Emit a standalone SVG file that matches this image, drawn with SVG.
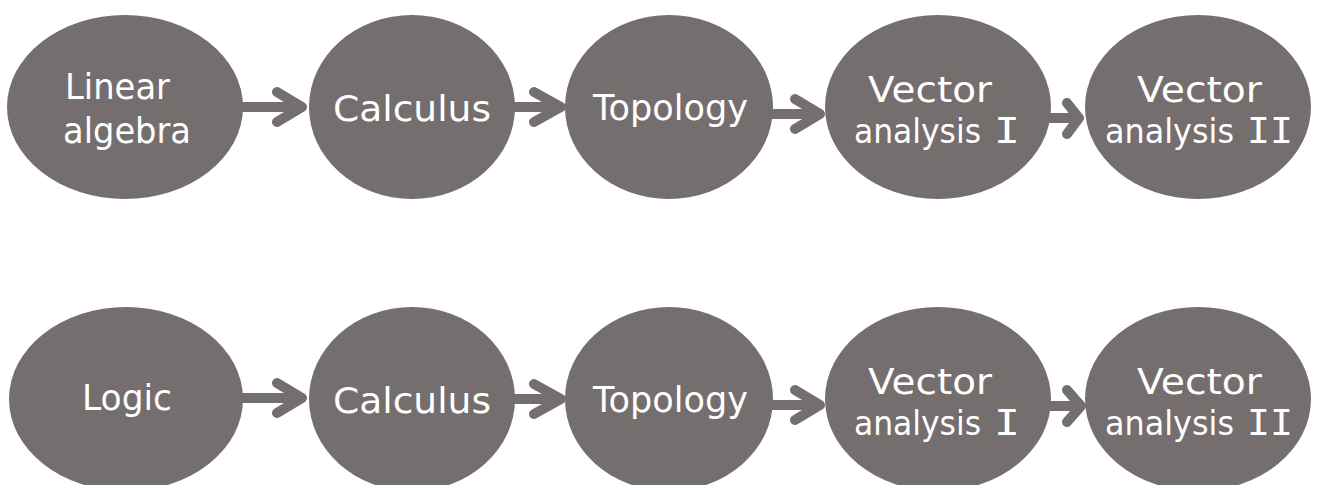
<svg xmlns="http://www.w3.org/2000/svg" width="1317" height="485" viewBox="0 0 1317 485">
  <style>
    .node { fill: #746e6e; }
    .label { fill: #ffffff; font-family: "DejaVu Sans", "Noto Sans", sans-serif; font-size: 35px; }
    .small { font-size: 34px; }
    .roman { fill: #ffffff; font-family: "DejaVu Sans Mono", "Liberation Mono", monospace; font-size: 36px; }
    .conn { fill: none; stroke: #746e6e; stroke-width: 10; stroke-linecap: round; stroke-linejoin: round; }
  </style>
  <rect width="1317" height="485" fill="#ffffff"/>

  <!-- connectors -->
  <g id="connectors">
    <!-- upper chain -->
    <path class="conn" d="M 238 107 H 298 M 277 92 L 302 107 L 277 122"/>
    <path class="conn" d="M 512 107 H 557 M 534 92 L 561 107 L 534 122"/>
    <path class="conn" d="M 770 114 H 815 M 795 99 L 820 114 L 795 129"/>
    <path class="conn" d="M 1048 118 H 1075 M 1067 103 L 1079 118 L 1067 134"/>
    <!-- lower chain -->
    <path class="conn" d="M 238 398 H 298 M 277 383 L 302 398 L 277 413"/>
    <path class="conn" d="M 512 399 H 557 M 534 384 L 561 399 L 534 414"/>
    <path class="conn" d="M 770 405 H 815 M 795 390 L 820 405 L 795 420"/>
    <path class="conn" d="M 1048 406 H 1077 M 1067 390 L 1081 406 L 1067 422"/>
  </g>

  <!-- upper chain nodes -->
  <g id="n-linear-algebra">
    <ellipse class="node" cx="125" cy="107" rx="118" ry="92"/>
    <text class="label" x="65" y="99" textLength="105" lengthAdjust="spacingAndGlyphs">Linear</text>
    <text class="label" x="63" y="143" textLength="128" lengthAdjust="spacingAndGlyphs">algebra</text>
  </g>
  <g id="n-calculus-1">
    <ellipse class="node" cx="412" cy="107" rx="103" ry="92"/>
    <text class="label" x="333" y="121" textLength="158" lengthAdjust="spacingAndGlyphs">Calculus</text>
  </g>
  <g id="n-topology-1">
    <ellipse class="node" cx="669" cy="107" rx="104" ry="92"/>
    <text class="label" x="593" y="120" textLength="155" lengthAdjust="spacingAndGlyphs">Topology</text>
  </g>
  <g id="n-vector-1-1">
    <ellipse class="node" cx="938" cy="107" rx="113" ry="92"/>
    <text class="label" x="868" y="102" textLength="124" lengthAdjust="spacingAndGlyphs">Vector</text>
    <text class="label small" x="854" y="143" textLength="127" lengthAdjust="spacingAndGlyphs">analysis</text>
    <text class="roman" x="994" y="143" textLength="26" lengthAdjust="spacingAndGlyphs">I</text>
  </g>
  <g id="n-vector-2-1">
    <ellipse class="node" cx="1198" cy="107" rx="113" ry="92"/>
    <text class="label" x="1137" y="102" textLength="125" lengthAdjust="spacingAndGlyphs">Vector</text>
    <text class="label small" x="1105" y="143" textLength="129" lengthAdjust="spacingAndGlyphs">analysis</text>
    <text class="roman" x="1247" y="143" textLength="46" lengthAdjust="spacingAndGlyphs">II</text>
  </g>

  <!-- lower chain nodes -->
  <g id="n-logic">
    <ellipse class="node" cx="126" cy="399" rx="117" ry="92"/>
    <text class="label" x="82" y="410" textLength="90" lengthAdjust="spacingAndGlyphs">Logic</text>
  </g>
  <g id="n-calculus-2">
    <ellipse class="node" cx="412" cy="399" rx="103" ry="92"/>
    <text class="label" x="333" y="413" textLength="158" lengthAdjust="spacingAndGlyphs">Calculus</text>
  </g>
  <g id="n-topology-2">
    <ellipse class="node" cx="669" cy="399" rx="104" ry="92"/>
    <text class="label" x="593" y="412" textLength="155" lengthAdjust="spacingAndGlyphs">Topology</text>
  </g>
  <g id="n-vector-1-2">
    <ellipse class="node" cx="938" cy="399" rx="113" ry="92"/>
    <text class="label" x="868" y="394" textLength="124" lengthAdjust="spacingAndGlyphs">Vector</text>
    <text class="label small" x="854" y="435" textLength="127" lengthAdjust="spacingAndGlyphs">analysis</text>
    <text class="roman" x="994" y="435" textLength="26" lengthAdjust="spacingAndGlyphs">I</text>
  </g>
  <g id="n-vector-2-2">
    <ellipse class="node" cx="1198" cy="399" rx="113" ry="92"/>
    <text class="label" x="1137" y="394" textLength="125" lengthAdjust="spacingAndGlyphs">Vector</text>
    <text class="label small" x="1105" y="435" textLength="129" lengthAdjust="spacingAndGlyphs">analysis</text>
    <text class="roman" x="1247" y="435" textLength="46" lengthAdjust="spacingAndGlyphs">II</text>
  </g>
</svg>
